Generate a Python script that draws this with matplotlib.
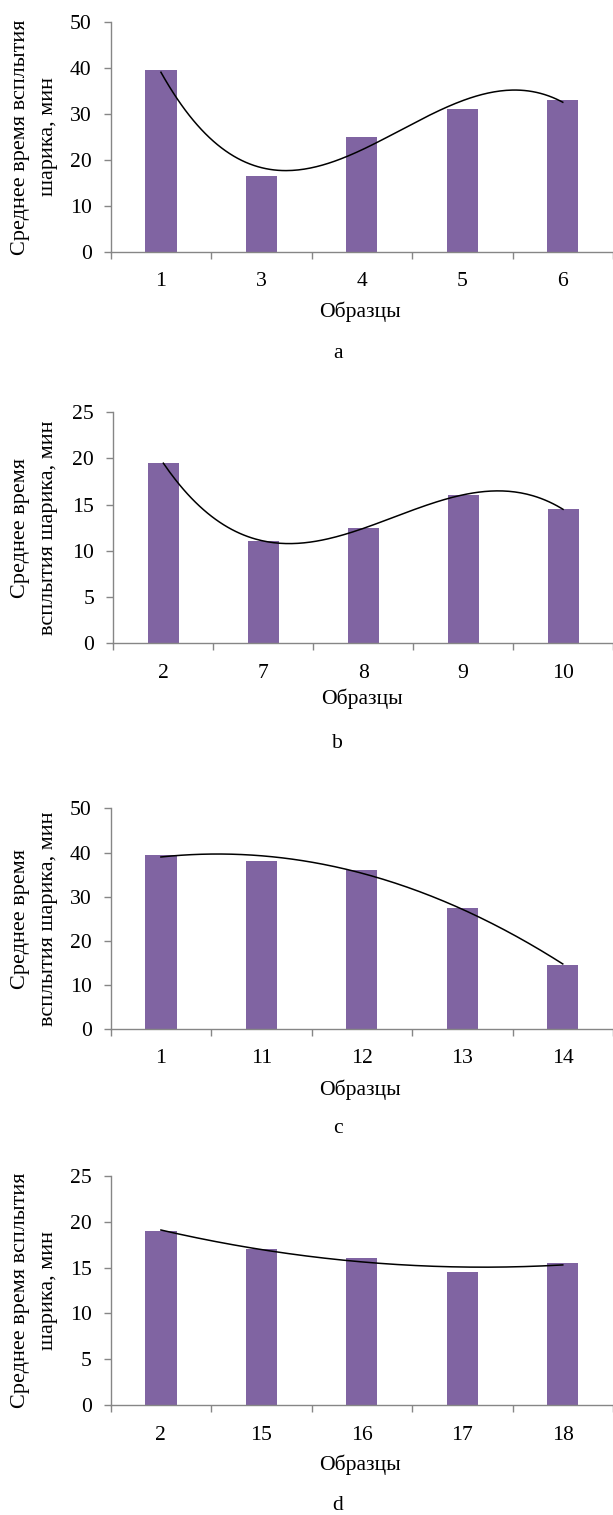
import matplotlib
matplotlib.use('Agg')
import matplotlib.pyplot as plt
from matplotlib.ticker import FixedLocator, NullFormatter
import numpy as np

plt.rcParams['font.family'] = ['Liberation Serif', 'DejaVu Serif']

# ---------------- data ----------------
cats_a = ['1', '3', '4', '5', '6']
vals_a = [39.5, 16.5, 25, 31, 33]

cats_b = ['2', '7', '8', '9', '10']
vals_b = [19.5, 11, 12.5, 16, 14.5]

cats_c = ['1', '11', '12', '13', '14']
vals_c = [39.5, 38, 36, 27.5, 14.5]

cats_d = ['2', '15', '16', '17', '18']
vals_d = [19, 17, 16, 14.5, 15.5]

y_max = [50, 25, 50, 25]
y_step = [10, 5, 10, 5]
trend_order = [3, 3, 2, 2]
y_labels = ['Среднее время всплытия\nшарика, мин',
            'Среднее время\nвсплытия шарика, мин',
            'Среднее время\nвсплытия шарика, мин',
            'Среднее время всплытия\nшарика, мин']
x_label = 'Образцы'
panel_letters = ['a', 'b', 'c', 'd']

# ---------------- layout (pixels) ----------------
W, H, DPI = 613, 1515, 100
# left, top, bottom, ticklabel centre y, xlabel centre y, letter centre y
layout = [
    (110.7, 21.7, 252.3, 279.0, 312.0, 353.0),
    (113.4, 412.3, 643.0, 671.0, 698.3, 743.3),
    (110.7, 808.3, 1029.3, 1056.0, 1090.0, 1128.3),
    (110.7, 1175.7, 1405.3, 1432.7, 1465.0, 1505.0),
]
FS = 15.6
FS_Y = 16.0
BAR_COLOR = '#8064A2'
AXIS_COLOR = '#868686'
TICK_LEN_PX = 6.7
px2pt = 72.0 / DPI

fig = plt.figure(figsize=(W / DPI, H / DPI), dpi=DPI)

panels = [(cats_a, vals_a), (cats_b, vals_b), (cats_c, vals_c), (cats_d, vals_d)]

for i, (cats, vals) in enumerate(panels):
    left, top, bottom, tly, xly, lety = layout[i]
    ax = fig.add_axes([left / W, 1 - bottom / H, (W - left) / W, (bottom - top) / H])
    x = np.arange(len(cats))
    ax.bar(x, vals, width=0.31, color=BAR_COLOR, zorder=2)

    # polynomial trend line (fit of the bar values)
    coeffs = np.polyfit(x, vals, trend_order[i])
    xs = np.linspace(x[0], x[-1], 200)
    ax.plot(xs, np.polyval(coeffs, xs), color='black', lw=1.1, zorder=3)

    ax.set_xlim(-0.5, len(cats) - 0.5)
    ax.set_ylim(0, y_max[i])
    ax.set_yticks(np.arange(0, y_max[i] + 0.1, y_step[i]))

    # category boundary ticks (major, no labels) + labels at centres (minor)
    ax.xaxis.set_major_locator(FixedLocator(np.arange(-0.5, len(cats), 1.0)))
    ax.xaxis.set_major_formatter(NullFormatter())
    ax.set_xticks(x, cats, minor=True)

    for s in ['top', 'right']:
        ax.spines[s].set_visible(False)
    for s in ['left', 'bottom']:
        ax.spines[s].set_color(AXIS_COLOR)
        ax.spines[s].set_linewidth(1.0)

    pad_x_px = (tly - 7.1) - bottom
    ax.tick_params(axis='x', which='major', direction='out', length=TICK_LEN_PX * px2pt,
                   width=1.0, color=AXIS_COLOR)
    ax.tick_params(axis='x', which='minor', length=0, pad=pad_x_px * px2pt, labelsize=FS)
    ax.tick_params(axis='y', direction='out', length=TICK_LEN_PX * px2pt, width=1.0,
                   color=AXIS_COLOR, pad=12.5 * px2pt, labelsize=FS)

    ax_h = bottom - top
    ax_w = W - left
    ax.set_xlabel(x_label, fontsize=FS)
    ax.xaxis.label.set_va('center')
    ax.xaxis.set_label_coords(((W + left) / 2 - left) / ax_w - 0.003, -(xly - bottom) / ax_h)

    ax.set_ylabel(y_labels[i], fontsize=FS_Y, linespacing=1.66)
    ax.yaxis.label.set_va('center')
    ax.yaxis.set_label_coords((34.2 - left) / ax_w, 0.5)

    fig.text(337.7 / W, 1 - lety / H, panel_letters[i], fontsize=FS,
             ha='center', va='center')

fig.savefig('out.png', dpi=DPI)
